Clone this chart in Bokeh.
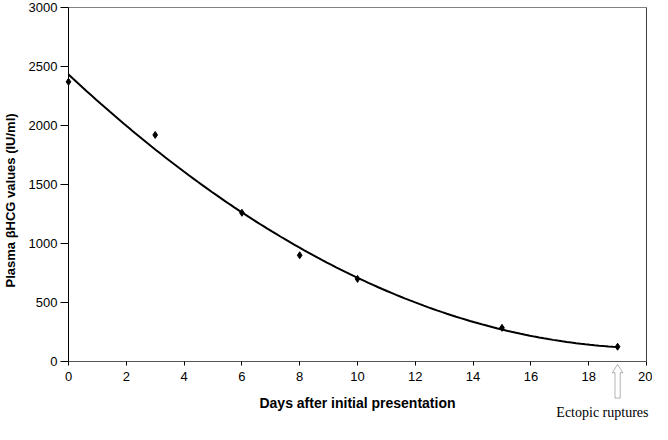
import numpy as np
from bokeh.plotting import figure
from bokeh.models import Range1d, FixedTicker, Label, PolyAnnotation, LinearAxis
from bokeh.embed import file_html
from bokeh.resources import INLINE

# Data
days = [0, 3, 6, 8, 10, 15, 19]
hcg = [2370, 1920, 1260, 900, 700, 285, 125]
x_ticks = [0, 2, 4, 6, 8, 10, 12, 14, 16, 18, 20]
y_ticks = [0, 500, 1000, 1500, 2000, 2500, 3000]
rupture_day = 19

X_MIN, X_MAX = 0, 20
Y_MIN, Y_MAX = 0, 3000
# visible area extends past the axes so the axes, labels and annotation are drawn inside it
X_VIEW = (-2.353, 20.208)
Y_VIEW = (-534, 3059)

FONT = "Liberation Sans"

p = figure(width=652, height=424, x_range=Range1d(*X_VIEW), y_range=Range1d(*Y_VIEW),
           output_backend="svg", toolbar_location=None, min_border=0,
           min_border_left=0, min_border_right=0, min_border_top=0, min_border_bottom=0)
p.xgrid.visible = False
p.ygrid.visible = False
p.outline_line_color = None
p.background_fill_color = "white"
p.border_fill_color = "white"

# Polynomial (order 2) trendline fitted to the data, as in the original
coef = np.polyfit(days, hcg, 2)
tx = np.linspace(min(days), max(days), 120)
ty = np.polyval(coef, tx)
p.line(tx, ty, line_color="black", line_width=2)

p.scatter(days, hcg, marker="diamond", size=7, fill_color="black", line_color="black")

# Axes
p.xaxis.fixed_location = Y_MIN
p.yaxis.fixed_location = X_MIN
p.xaxis.bounds = (X_MIN, X_MAX)
p.yaxis.bounds = (Y_MIN, Y_MAX)
p.xaxis.ticker = FixedTicker(ticks=x_ticks)
p.yaxis.ticker = FixedTicker(ticks=y_ticks)
p.xaxis.minor_tick_line_color = None
p.yaxis.minor_tick_line_color = None
p.xaxis.major_tick_in = 0
p.xaxis.major_tick_out = 4
p.yaxis.major_tick_in = 0
p.yaxis.major_tick_out = 8
p.xaxis.major_label_standoff = 7
p.yaxis.major_label_standoff = 3
for ax in (p.xaxis, p.yaxis):
    ax.axis_line_color = "black"
    ax.major_tick_line_color = "black"
    ax.major_label_text_font = FONT
    ax.major_label_text_font_size = "13px"
    ax.major_label_text_color = "black"
    ax.axis_label_text_font = FONT
    ax.axis_label_text_font_style = "bold"
    ax.axis_label_text_color = "black"
p.xaxis.axis_line_color = "#555555"
p.xaxis.axis_label = "Days after initial presentation"
p.xaxis.axis_label_text_font_size = "14px"
p.xaxis.axis_label_standoff = 10

# y-axis title (placed as a rotated label)
p.add_layout(Label(x=-2.0, y=1380, text="Plasma  \u03b2HCG values (IU/ml)", angle=np.pi / 2,
                   text_align="center", text_baseline="middle", text_font=FONT,
                   text_font_style="bold", text_font_size="13px", text_color="black"))

# Box borders (top and right) of the plot area
top = LinearAxis(ticker=FixedTicker(ticks=[]), fixed_location=Y_MAX, bounds=(X_MIN, X_MAX),
                 axis_line_color="#808080", major_tick_line_color=None, minor_tick_line_color=None)
right = LinearAxis(ticker=FixedTicker(ticks=[]), fixed_location=X_MAX, bounds=(Y_MIN, Y_MAX),
                   axis_line_color="#404040", major_tick_line_color=None, minor_tick_line_color=None)
p.add_layout(top, "above")
p.add_layout(right, "right")

# Hollow arrow marking the rupture day
head_half, shaft_half = 0.18, 0.09
tip, base, tail = -25, -95, -310
d = rupture_day
arrow = PolyAnnotation(
    xs=[d, d + head_half, d + shaft_half, d + shaft_half, d - shaft_half, d - shaft_half, d - head_half],
    ys=[tip, base, base, tail, tail, base, base],
    fill_color="white", fill_alpha=1, line_color="black", line_width=1)
p.add_layout(arrow)

p.add_layout(Label(x=X_MAX, y=-430, x_offset=2, text="Ectopic ruptures", text_align="right",
                   text_baseline="alphabetic", text_font="Liberation Serif",
                   text_font_size="14px", text_color="black"))

open("out.html", "w").write(file_html(p, INLINE))
